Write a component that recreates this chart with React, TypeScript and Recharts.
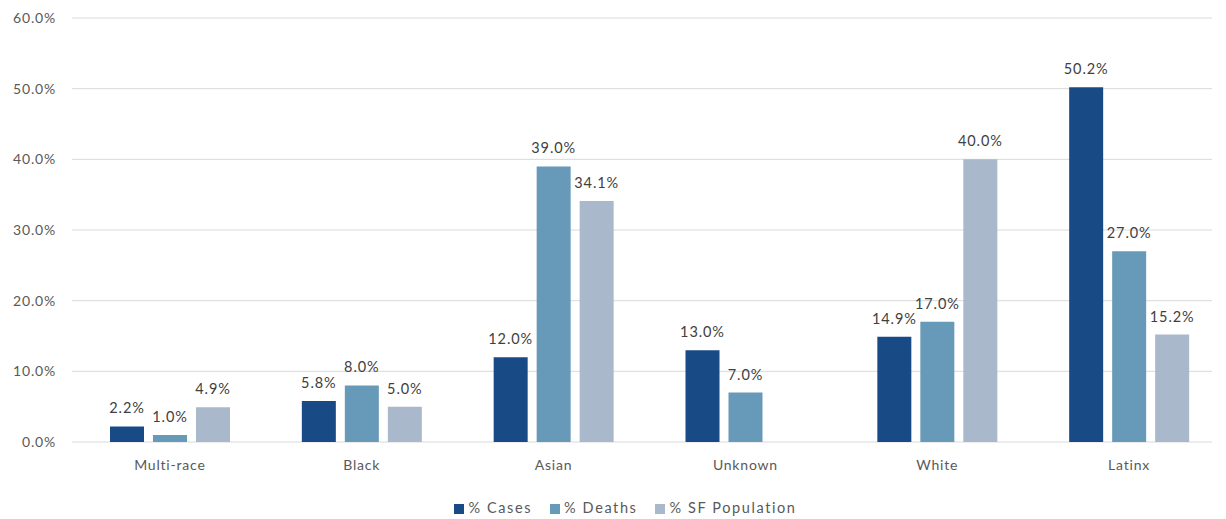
import { BarChart, Bar, XAxis, YAxis, CartesianGrid, Legend, LabelList } from "recharts";

const categories = ["Multi-race", "Black", "Asian", "Unknown", "White", "Latinx"];
const cases = [2.2, 5.8, 12.0, 13.0, 14.9, 50.2];
const deaths = [1.0, 8.0, 39.0, 7.0, 17.0, 27.0];
const sfPopulation: (number | null)[] = [4.9, 5.0, 34.1, null, 40.0, 15.2];
const yTicks = [0, 10, 20, 30, 40, 50, 60];

const data = categories.map((name, i) => ({
  name,
  cases: cases[i],
  deaths: deaths[i],
  pop: sfPopulation[i],
}));

const pct = (v: any) => (v === null || v === undefined ? "" : `${Number(v).toFixed(1)}%`);
const font = "Lato, 'Open Sans', sans-serif";
const textStyle = { fill: "#595959", fontSize: 14, fontFamily: font, letterSpacing: 0.8 };
const labelStyle = { fill: "#404040", fontSize: 14.5, fontFamily: font, letterSpacing: 0.9 };

export default function App() {
  return (
    <div style={{ position: "absolute", left: 0, top: 0, background: "#fff" }}>
      <BarChart
        width={1226}
        height={519}
        data={data}
        margin={{ top: 18, right: 1, bottom: 3, left: 0 }}
        barCategoryGap={36}
        barGap={9}
      >
        <CartesianGrid vertical={false} stroke="#d9d9d9" x={72} width={1140} />
        <XAxis
          dataKey="name"
          tickLine={false}
          axisLine={false}
          height={57}
          tick={textStyle}
          tickMargin={12}
        />
        <YAxis
          width={74}
          domain={[0, 60]}
          ticks={yTicks}
          tickFormatter={pct}
          axisLine={false}
          tickLine={false}
          tickMargin={12}
          tick={textStyle}
        />
        <Legend
          verticalAlign="bottom"
          iconType="square"
          iconSize={10}
          wrapperStyle={{ fontFamily: font, fontSize: 14.5, letterSpacing: 1.6, color: "#595959", left: 22 }}
          formatter={(v: any) => <span style={{ color: "#595959", marginRight: 8 }}>{v}</span>}
        />
        <Bar dataKey="cases" name="% Cases" fill="#184a86" isAnimationActive={false}>
          <LabelList dataKey="cases" position="top" formatter={pct} style={labelStyle} offset={13} />
        </Bar>
        <Bar dataKey="deaths" name="% Deaths" fill="#6799b9" isAnimationActive={false}>
          <LabelList dataKey="deaths" position="top" formatter={pct} style={labelStyle} offset={13} />
        </Bar>
        <Bar dataKey="pop" name="% SF Population" fill="#a9b8cb" isAnimationActive={false}>
          <LabelList dataKey="pop" position="top" formatter={pct} style={labelStyle} offset={13} />
        </Bar>
      </BarChart>
    </div>
  );
}
